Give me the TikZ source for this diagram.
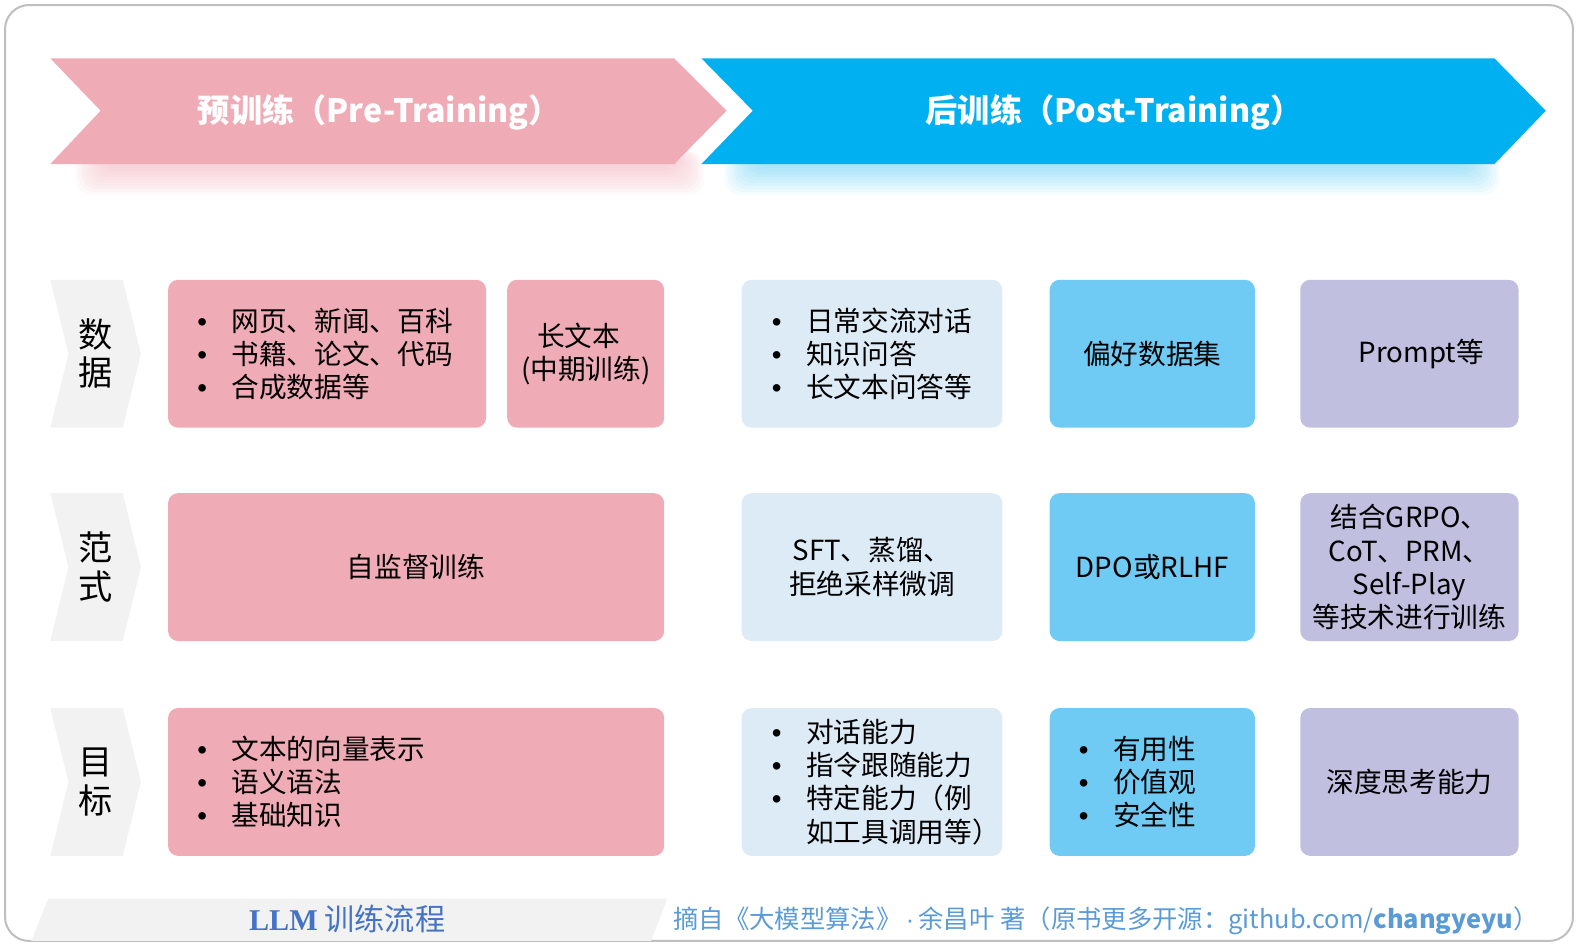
\documentclass[tikz,border=0pt]{standalone}
\usepackage{fontspec}
\setmainfont{Noto Sans CJK SC}
\newfontfamily\serifbold{Liberation Serif}
\newfontfamily\bulfont{Liberation Sans}
\usetikzlibrary{positioning}

\definecolor{pinkc}{HTML}{F0ACB6}
\definecolor{bluec}{HTML}{00B0F0}
\definecolor{lblue}{HTML}{DDEBF7}
\definecolor{mblue}{HTML}{6FCBF4}
\definecolor{lilac}{HTML}{C0BFDF}
\definecolor{greyc}{HTML}{F2F2F2}
\definecolor{framec}{HTML}{BFBFBF}
\definecolor{titleblue}{HTML}{4472C4}
\definecolor{notec}{HTML}{5B9BD5}

\newcommand{\boxfont}{\fontsize{13.75pt}{16.5pt}\selectfont}
\newcommand{\itm}{\makebox[17pt][l]{\bulfont •}}

\tikzset{
  cell/.style={rounded corners=5pt, minimum height=73.5pt, inner sep=0pt,
    font=\boxfont, align=center},
  list/.style={align=left, text width=#1},
  title/.style={text=white, font=\fontsize{16pt}{20pt}\selectfont\bfseries},
  rowlabel/.style={align=center, font=\fontsize{17pt}{19pt}\selectfont}
}

\begin{document}
\begin{tikzpicture}[x=0.5pt, y=-0.5pt]
  \useasboundingbox (0,0) rectangle (1568,938);

  % outer frame
  \draw[framec, line width=1pt, rounded corners=12pt] (5,5) rectangle (1563,935);

  % glow under the banners
  \foreach \k in {0,...,9} {
    \fill[pinkc, opacity=0.07, rounded corners=8pt] (75+3*\k,150) rectangle (700-3*\k,194-3*\k);
    \fill[bluec, opacity=0.04, rounded corners=8pt] (720+3*\k,150) rectangle (1490-3*\k,194-3*\k);
  }

  % banners
  \fill[pinkc] (50,58) -- (670,58) -- (722,110) -- (670,163) -- (50,163) -- (100,110) -- cycle;
  \fill[bluec] (697,58) -- (1485,58) -- (1536,110) -- (1485,163) -- (697,163) -- (748,110) -- cycle;
  \node[title] (pre) at (377,112) {预训练（Pre-Training）};
  \node[title] (post) at (1107,112) {后训练（Post-Training）};

  % row labels
  \foreach \y/\t [count=\i] in {351.5/数\\据, 563.5/范\\式, 777/目\\标} {
    \fill[greyc] (50,\y-73.5) -- (122,\y-73.5) -- (140,\y) -- (122,\y+73.5)
      -- (50,\y+73.5) -- (68,\y) -- cycle;
    \node[rowlabel] (lab\i) at (95,\y) {\t};
  }

  % data
  \node[cell, fill=pinkc, minimum width=158pt, inner xsep=14.5pt, list=129pt] (predata) at (325,351.5)
    {\itm 网页、新闻、百科\\\itm 书籍、论文、代码\\\itm 合成数据等};
  \node[cell, fill=pinkc, minimum width=78pt] (longtext) at (582,351.5) {长文本\hspace*{7pt}\\(中期训练)};
  \node[cell, fill=lblue, minimum width=129.5pt, inner xsep=15pt, list=99.5pt] (sftdata) at (866.5,351.5)
    {\itm 日常交流对话\\\itm 知识问答\\\itm 长文本问答等};
  \node[cell, fill=mblue, minimum width=102pt] (prefdata) at (1145,351.5) {偏好数据集};
  \node[cell, fill=lilac, minimum width=108.5pt] (rldata) at (1400.5,351.5) {\hspace*{12pt}Prompt等};

  % paradigm
  \node[cell, fill=pinkc, minimum width=246.5pt] (prepara) at (413.5,563.5) {自监督训练};
  \node[cell, fill=lblue, minimum width=129.5pt] (sftpara) at (866.5,563.5) {SFT、蒸馏、\\拒绝采样微调};
  \node[cell, fill=mblue, minimum width=102pt] (prefpara) at (1145,563.5) {DPO或RLHF};
  \node[cell, fill=lilac, minimum width=108.5pt] (rlpara) at (1400.5,563.5)
    {结合GRPO、\\CoT、PRM、\\Self-Play\\等技术进行训练};

  % goals
  \node[cell, fill=pinkc, minimum width=246.5pt, inner xsep=14.5pt, list=217.5pt] (pregoal) at (413.5,777)
    {\itm 文本的向量表示\\\itm 语义语法\\\itm 基础知识};
  \node[cell, fill=lblue, minimum width=129.5pt, inner xsep=15pt, list=99.5pt] (sftgoal) at (866.5,777)
    {\itm 对话能力\\\itm 指令跟随能力\\\itm 特定能力（例\\\hspace*{17pt}如工具调用等）};
  \node[cell, fill=mblue, minimum width=102pt, inner xsep=14.5pt, list=73pt] (prefgoal) at (1145,777)
    {\itm 有用性\\\itm 价值观\\\itm 安全性};
  \node[cell, fill=lilac, minimum width=108.5pt] (rlgoal) at (1400.5,777) {深度思考能力};

  % footer
  \fill[greyc] (48,893) -- (663,893) -- (647,935) -- (31,935) -- cycle;
  \node[text=titleblue, font=\fontsize{15pt}{18pt}\selectfont] (caption) at (345,913)
    {{\serifbold\bfseries LLM} 训练流程};
  \node[text=notec, font=\fontsize{12.6pt}{14pt}\selectfont] (source) at (1099,915)
    {摘自《大模型算法》{\bulfont\,·\,}余昌叶 著（原书更多开源：github.com/\textbf{changyeyu}）};
\end{tikzpicture}
\end{document}
